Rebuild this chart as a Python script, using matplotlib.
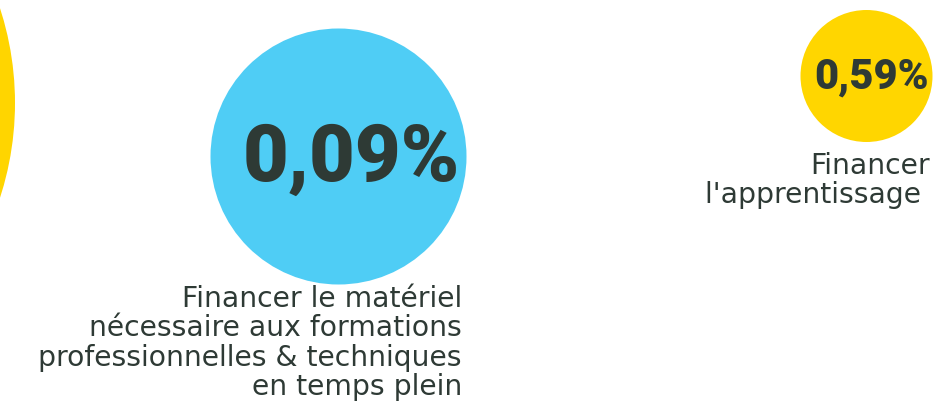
import matplotlib
matplotlib.use("Agg")
import matplotlib.pyplot as plt
from matplotlib.patches import Circle

# Data
values = ["", "0,09%", "0,59%"]
labels = [
    [],
    ["Financer le matériel", "nécessaire aux formations",
     "professionnelles & techniques", "en temps plein"],
    ["Financer", "l'apprentissage "],
]
colors = ["#FFD500", "#4FCDF5", "#FFD600"]

# Layout (pixel coordinates)
centers = [(-292, 103), (338.5, 156.5), (866.5, 76)]
radii = [307, 128, 66]
value_pos = [(0, 0), (351, 159), (872, 77)]
value_size = [0, 57, 30]
label_right = [0, 462, 930]
label_top = [0, 299, 166]
label_step = 29.3

W, H = 953, 405
fig = plt.figure(figsize=(W / 100, H / 100), dpi=100)
ax = fig.add_axes([0, 0, 1, 1])
ax.set_xlim(0, W)
ax.set_ylim(H, 0)
ax.axis("off")

txt_color = "#2E3A35"
for i in range(3):
    ax.add_patch(Circle(centers[i], radii[i], color=colors[i], lw=0))
    if values[i]:
        ax.text(value_pos[i][0], value_pos[i][1], values[i], ha="center", va="center",
                fontsize=value_size[i], fontweight="black", family="Roboto",
                color=txt_color)
    for j, line in enumerate(labels[i]):
        ax.text(label_right[i], label_top[i] + j * label_step, line,
                ha="right", va="center", fontsize=20.3, family="DejaVu Sans",
                color=txt_color)

fig.savefig("out.png", dpi=100)
